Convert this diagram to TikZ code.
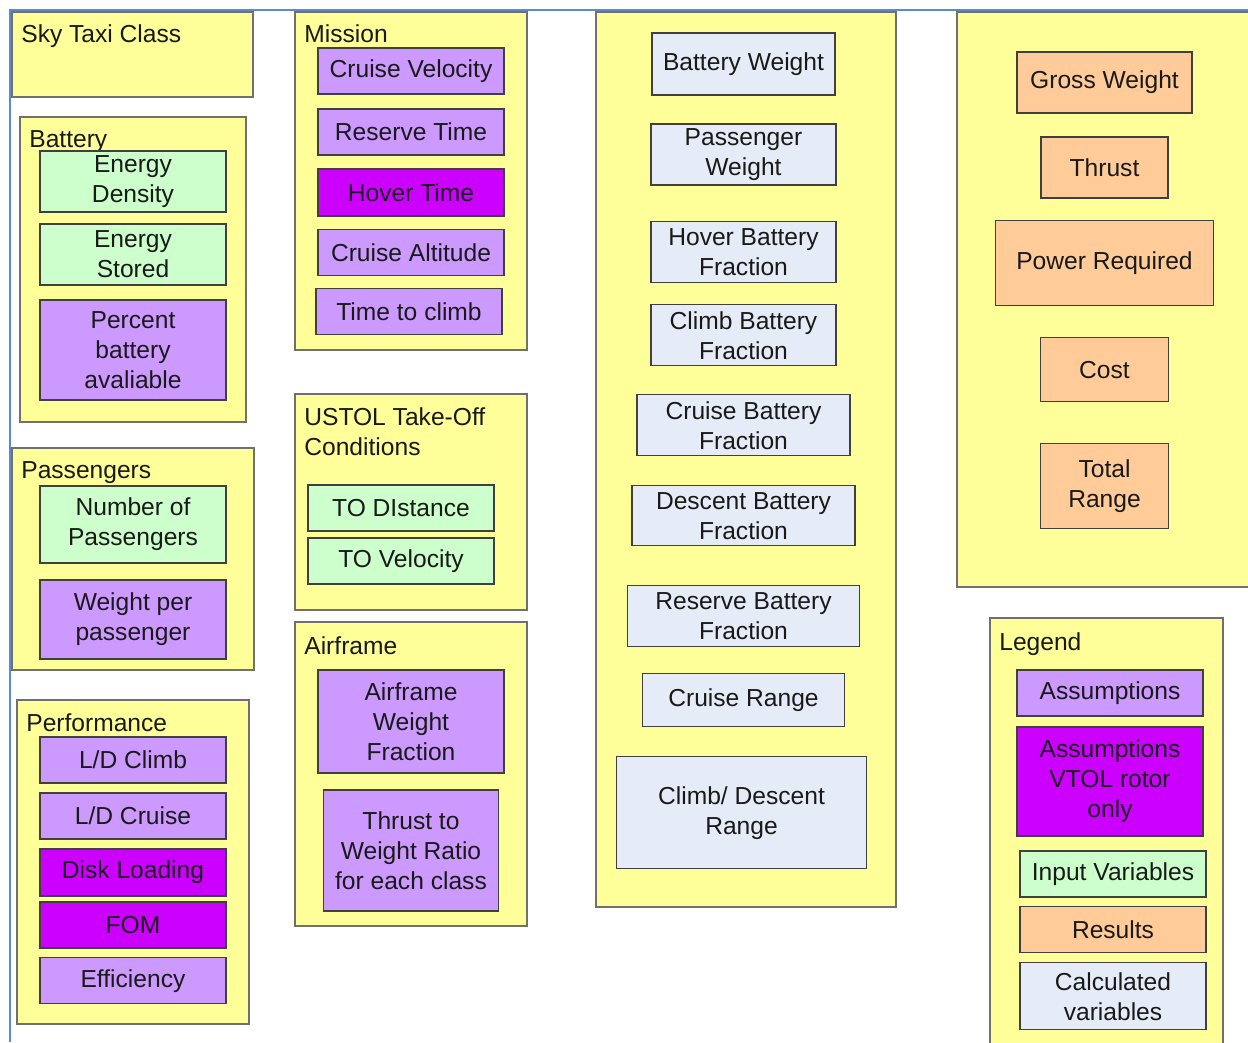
\documentclass[tikz,border=0pt]{standalone}
\usepackage{fontspec}
\setmainfont{Liberation Sans}
\usepackage{tikz}
\usetikzlibrary{positioning}

\definecolor{yel}{RGB}{255,255,153}
\definecolor{lav}{RGB}{204,153,255}
\definecolor{mag}{RGB}{204,0,255}
\definecolor{mint}{RGB}{204,255,204}
\definecolor{peach}{RGB}{255,204,153}
\definecolor{pale}{RGB}{230,236,247}
\definecolor{grpline}{RGB}{112,112,112}
\definecolor{boxline}{RGB}{64,64,64}
\definecolor{frameblue}{RGB}{90,140,200}

\begin{document}
\begin{tikzpicture}[x=0.02cm, y=-0.02cm, node distance=1.2cm]
% Define block styles
\tikzstyle{group} = [rectangle, draw=grpline, fill=yel, line width=0.6pt, inner sep=0pt]
\tikzstyle{title} = [inner sep=0pt, anchor=base west, align=left,
    text=black!90, font=\fontsize{14}{17}\selectfont]
\tikzstyle{box} = [rectangle, draw=boxline, line width=0.6pt, inner sep=0pt,
    align=center, text=black!90, font=\fontsize{14}{17}\selectfont]
\tikzstyle{assume} = [box, fill=lav]
\tikzstyle{vtol} = [box, fill=mag]
\tikzstyle{input} = [box, fill=mint]
\tikzstyle{result} = [box, fill=peach]
\tikzstyle{calcd} = [box, fill=pale]
\tikzset{dims/.style 2 args={minimum width=#1*0.02cm, minimum height=#2*0.02cm}}

    \useasboundingbox (0,0) rectangle (1248,1042);
    \draw [frameblue, line width=0.8pt] (10,1042) -- (10,10) -- (1248,10);

    % Place groups
    \node [group, dims={241}{85}] (skytaxi) at (132.5,54.5) {};
    \node [group, dims={226}{305}] (battery) at (133,269.5) {};
    \node [group, dims={242}{222}] (passengers) at (133,559) {};
    \node [group, dims={232}{324}] (performance) at (133,862) {};
    \node [group, dims={232}{338}] (mission) at (411,181) {};
    \node [group, dims={232}{216}] (ustol) at (411,502) {};
    \node [group, dims={232}{304}] (airframe) at (411,774) {};
    \node [group, dims={300}{895}] (calcvars) at (746,459.5) {};
    \node [group, dims={313}{575}] (results) at (1113.5,299.5) {};
    \node [group, dims={233}{452}] (legend) at (1106.5,844) {};

    % Group titles
    \node [title] (skytaxilbl) at (21,42) {Sky Taxi Class};
    \node [title] (batterylbl) at (29,147) {Battery};
    \node [title] (passengerslbl) at (21,478) {Passengers};
    \node [title] (performancelbl) at (26,731) {Performance};
    \node [title] (missionlbl) at (304,42) {Mission};
    \node [title] (ustollbl) at (304,455) {USTOL Take-Off\\Conditions};
    \node [title] (airframelbl) at (304,654) {Airframe};
    \node [title] (legendlbl) at (999,650) {Legend};

    % Battery
    \node [input, dims={186}{61}] (edens) at (133,181.5) {Energy\\Density};
    \node [input, dims={186}{61}, below of=edens, node distance=1.46cm] (estor) {Energy\\Stored};
    \node [assume, dims={186}{100}, below of=estor, node distance=1.91cm] (pbatt) {Percent\\battery\\avaliable};

    % Passengers
    \node [input, dims={186}{77}] (npass) at (133,524.5) {Number of\\Passengers};
    \node [assume, dims={186}{79}, below of=npass, node distance=1.9cm] (wpass) {Weight per\\passenger};

    % Performance
    \node [assume, dims={186}{46}] (ldclimb) at (133,760) {L/D Climb};
    \node [assume, dims={186}{46}, below of=ldclimb, node distance=1.12cm] (ldcruise) {L/D Cruise};
    \node [vtol, dims={186}{47}, below of=ldcruise, node distance=1.13cm] (disk) {Disk Loading};
    \node [vtol, dims={186}{46}, below of=disk, node distance=1.05cm] (fom) {FOM};
    \node [assume, dims={186}{46}, below of=fom, node distance=1.12cm] (eff) {Efficiency};

    % Mission
    \node [assume, dims={186}{46}] (cvel) at (411,71) {Cruise Velocity};
    \node [assume, dims={186}{46}, below of=cvel, node distance=1.22cm] (rtime) {Reserve Time};
    \node [vtol, dims={186}{47}, below of=rtime, node distance=1.21cm] (htime) {Hover Time};
    \node [assume, dims={186}{46}, below of=htime, node distance=1.21cm] (calt) {Cruise Altitude};
    \node [assume, dims={186}{46}, below of=calt, node distance=1.18cm, xshift=-0.04cm] (tclimb) {Time to climb};

    % USTOL
    \node [input, dims={186}{46}] (todist) at (401,508) {TO DIstance};
    \node [input, dims={186}{46}, below of=todist, node distance=1.06cm] (tovel) {TO Velocity};

    % Airframe
    \node [assume, dims={186}{103}] (awf) at (411,721.5) {Airframe\\Weight\\Fraction};
    \node [assume, dims={175}{121}, below of=awf, node distance=2.58cm] (twr) {Thrust to\\Weight Ratio\\for each class};

    % Calculated variables
    \node [calcd, dims={183}{62}] (batw) at (743.5,64) {Battery Weight};
    \node [calcd, dims={185}{61}, below of=batw, node distance=1.81cm] (passw) {Passenger\\Weight};
    \node [calcd, dims={185}{61}, below of=passw, node distance=1.96cm] (hovbf) {Hover Battery\\Fraction};
    \node [calcd, dims={185}{61}, below of=hovbf, node distance=1.66cm] (clbf) {Climb Battery\\Fraction};
    \node [calcd, dims={213}{61}, below of=clbf, node distance=1.8cm] (crbf) {Cruise Battery\\Fraction};
    \node [calcd, dims={223}{60}, below of=crbf, node distance=1.81cm] (debf) {Descent Battery\\Fraction};
    \node [calcd, dims={232}{61}, below of=debf, node distance=2.01cm] (rebf) {Reserve Battery\\Fraction};
    \node [calcd, dims={202}{53}, below of=rebf, node distance=1.68cm] (crange) {Cruise Range};
    \node [calcd, dims={250}{112}, below of=crange, node distance=2.25cm, xshift=-0.04cm] (cdrange) {Climb/ Descent\\Range};

    % Results
    \node [result, dims={175}{61}] (grossw) at (1104.5,82.5) {Gross Weight};
    \node [result, dims={127}{61}, below of=grossw, node distance=1.7cm] (thrust) {Thrust};
    \node [result, dims={218}{85}, below of=thrust, node distance=1.92cm] (power) {Power Required};
    \node [result, dims={128}{64}, below of=power, node distance=2.13cm] (cost) {Cost};
    \node [result, dims={128}{85}, below of=cost, node distance=2.33cm] (trange) {Total\\Range};

    % Legend
    \node [assume, dims={186}{46}] (lassume) at (1110,693) {Assumptions};
    \node [vtol, dims={186}{109}, below of=lassume, node distance=1.77cm] (lvtol) {Assumptions\\VTOL rotor\\only};
    \node [input, dims={186}{46}, below of=lvtol, node distance=1.85cm, xshift=0.06cm] (linput) {Input Variables};
    \node [result, dims={186}{46}, below of=linput, node distance=1.12cm] (lresult) {Results};
    \node [calcd, dims={186}{67}, below of=lresult, node distance=1.33cm] (lcalc) {Calculated\\variables};
\end{tikzpicture}
\end{document}
